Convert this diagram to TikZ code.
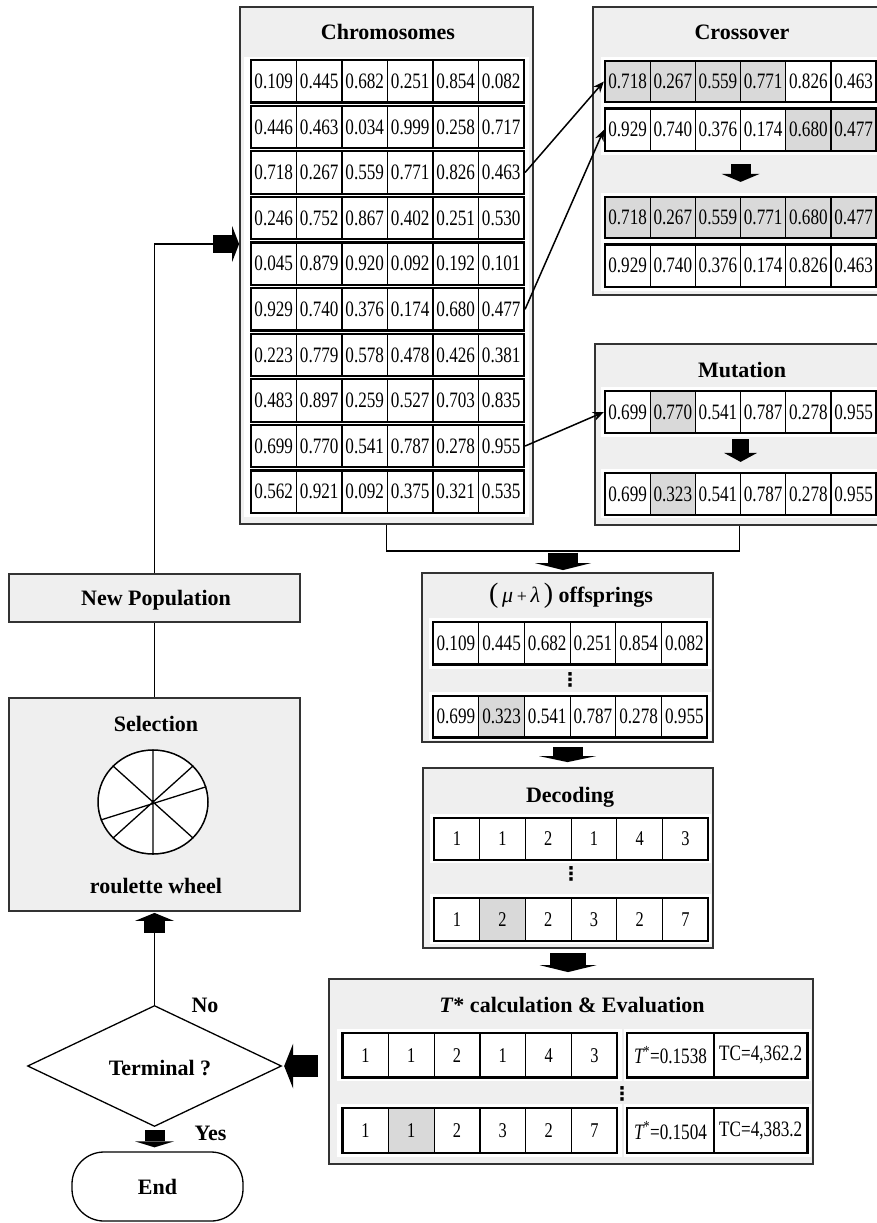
\documentclass[tikz,border=0pt]{standalone}
\usepackage{fontspec}
\setmainfont{Liberation Serif}
\newfontfamily\cellfont[FakeStretch=0.78]{Liberation Serif}
\newfontfamily\dotfont{DejaVu Sans}
\usetikzlibrary{arrows.meta,shapes.geometric,fit,calc}
\definecolor{boxgray}{HTML}{EFEFEF}
\definecolor{cg}{HTML}{D9D9D9}
\definecolor{edge}{HTML}{333333}
\tikzset{
  gbox/.style={draw=edge, fill=boxgray, line width=1.8pt, inner sep=0pt},
  cell/.style={draw=black, line width=1.2pt, inner sep=0pt, font=\cellfont\fontsize{22}{24}\selectfont},
  cellsm/.style={cell, font=\cellfont\fontsize{21}{24}\selectfont},
  rowbox/.style={draw=black, line width=2.2pt, inner sep=0pt},
  ttl/.style={font=\bfseries\fontsize{22}{26}\selectfont, anchor=base, inner sep=0pt},
  conn/.style={draw=black, line width=1.5pt},
  ptr/.style={conn, -{Stealth[length=11pt,width=9pt]}},
  blk/.style n args={3}{draw=black, line width=#1, -{Triangle[width=#2, length=#3, line width=0pt]}},
  dotsn/.style={inner sep=0pt, font=\dotfont\bfseries\fontsize{19}{20}\selectfont}
}
\newcommand{\crow}[7][cell]{%
  \foreach \v/\f [count=\i] in {#7}{%
    \node[#1, fill=\f, minimum width=#5pt, minimum height=#6pt] (#2-\i) at ({#3+(\i-0.5)*#5},{#4+#6/2}) {\v};
  }
  \node[rowbox, fit={(#3,#4) ({#3+6*#5},{#4+#6})}] (#2) {};
}
\newcommand{\whitestrip}[4]{\fill[white] (#1,#2) rectangle (#3,#4);}
\begin{document}
\begin{tikzpicture}[x=1pt,y=-1pt]
\useasboundingbox (0,0) rectangle (877,1223);

% ---------- boxes ----------
\node[gbox, fit={(240,7) (533,524)}] (chrom) {};
\node[gbox, fit={(593,7) (884,295)}] (cross) {};
\node[gbox, fit={(595,344) (884,525)}] (mut) {};
\node[gbox, fit={(422,573) (713,742)}] (offs) {};
\node[gbox, fit={(423,768) (713,948)}] (dec) {};
\node[gbox, fit={(329,979) (813,1164)}] (tst) {};
\node[gbox, fit={(9,574) (300,622)}] (newpop) {};
\node[gbox, fit={(9,698) (300,911)}] (sel) {};

% ---------- white strips ----------
\whitestrip{244}{57}{529}{517}
\whitestrip{601}{57}{880}{155}
\whitestrip{601}{193}{880}{291}
\whitestrip{601}{387}{880}{437}
\whitestrip{601}{469}{880}{518}
\whitestrip{429}{618}{711}{669}
\whitestrip{429}{692}{711}{740}
\whitestrip{430}{814}{711}{863}
\whitestrip{430}{894}{711}{944}
\whitestrip{337}{1029}{622}{1081}
\whitestrip{624}{1029}{811}{1081}
\whitestrip{337}{1104}{622}{1157}
\whitestrip{624}{1104}{811}{1157}

% ---------- titles ----------
\node[ttl] (tchrom) at (388,40) {Chromosomes};
\node[ttl] (tcross) at (742,39.5) {Crossover};
\node[ttl] (tmut) at (742,377) {Mutation};
\node[ttl] (toffs) at (571,602) {{\mdseries\fontsize{28}{28}\selectfont(}\,{\mdseries\itshape μ}\,{\mdseries\fontsize{18}{18}\selectfont +}\,{\mdseries\itshape λ}\,{\mdseries\fontsize{28}{28}\selectfont)}\ offsprings};
\node[ttl] (tdec) at (570,802) {Decoding};
\node[ttl] (ttst) at (572,1012) {\textit{T}* calculation \& Evaluation};
\node[ttl] (tnew) at (156,605) {New Population};
\node[ttl] (tsel) at (156,731) {Selection};
\node[ttl] (trou) at (156,893) {roulette wheel};

% ---------- chromosomes ----------
\crow{ch1}{251}{60}{45.5}{42.5}{0.109/white,0.445/white,0.682/white,0.251/white,0.854/white,0.082/white}
\crow{ch2}{251}{105.6}{45.5}{42.5}{0.446/white,0.463/white,0.034/white,0.999/white,0.258/white,0.717/white}
\crow{ch3}{251}{151.2}{45.5}{42.5}{0.718/white,0.267/white,0.559/white,0.771/white,0.826/white,0.463/white}
\crow{ch4}{251}{196.8}{45.5}{42.5}{0.246/white,0.752/white,0.867/white,0.402/white,0.251/white,0.530/white}
\crow{ch5}{251}{242.4}{45.5}{42.5}{0.045/white,0.879/white,0.920/white,0.092/white,0.192/white,0.101/white}
\crow{ch6}{251}{288}{45.5}{42.5}{0.929/white,0.740/white,0.376/white,0.174/white,0.680/white,0.477/white}
\crow{ch7}{251}{333.6}{45.5}{42.5}{0.223/white,0.779/white,0.578/white,0.478/white,0.426/white,0.381/white}
\crow{ch8}{251}{379.2}{45.5}{42.5}{0.483/white,0.897/white,0.259/white,0.527/white,0.703/white,0.835/white}
\crow{ch9}{251}{424.8}{45.5}{42.5}{0.699/white,0.770/white,0.541/white,0.787/white,0.278/white,0.955/white}
\crow{ch10}{251}{470.4}{45.5}{42.5}{0.562/white,0.921/white,0.092/white,0.375/white,0.321/white,0.535/white}

% ---------- crossover ----------
\crow{co1}{605}{61}{45.2}{41}{0.718/cg,0.267/cg,0.559/cg,0.771/cg,0.826/white,0.463/white}
\crow{co2}{605}{108.5}{45.2}{42.5}{0.929/white,0.740/white,0.376/white,0.174/white,0.680/cg,0.477/cg}
\crow{co3}{605}{197}{45.2}{41}{0.718/cg,0.267/cg,0.559/cg,0.771/cg,0.680/cg,0.477/cg}
\crow{co4}{605}{244.5}{45.2}{42.5}{0.929/white,0.740/white,0.376/white,0.174/white,0.826/white,0.463/white}

% ---------- mutation ----------
\crow{mu1}{605}{391}{45.2}{42}{0.699/white,0.770/cg,0.541/white,0.787/white,0.278/white,0.955/white}
\crow{mu2}{605}{473}{45.2}{42}{0.699/white,0.323/cg,0.541/white,0.787/white,0.278/white,0.955/white}

% ---------- offsprings ----------
\crow{of1}{433}{622}{45.7}{42.5}{0.109/white,0.445/white,0.682/white,0.251/white,0.854/white,0.082/white}
\node[dotsn] (ofd) at (570,680) {⋮};
\crow{of2}{433}{696}{45.7}{41.5}{0.699/white,0.323/cg,0.541/white,0.787/white,0.278/white,0.955/white}

% ---------- decoding ----------
\crow[cellsm]{de1}{434}{818}{45.7}{42}{1/white,1/white,2/white,1/white,4/white,3/white}
\node[dotsn] (ded) at (571,874) {⋮};
\crow[cellsm]{de2}{434}{898}{45.7}{43}{1/white,2/cg,2/white,3/white,2/white,7/white}

% ---------- T* calculation ----------
\crow[cellsm]{tc1}{342.5}{1033}{45.8}{44.5}{1/white,1/white,2/white,1/white,4/white,3/white}
\node[cell, minimum width=87pt, minimum height=44.5pt] (tv1) at (670.5,1055.25) {{\itshape T}\textsuperscript{*}=0.1538};
\node[cell, minimum width=93.5pt, minimum height=44.5pt] (tw1) at (760.75,1055.25) {TC=4,362.2};
\node[rowbox, fit={(627,1033) (807.5,1077.5)}] (tr1) {};
\node[dotsn] (tcd) at (622,1094) {⋮};
\crow[cellsm]{tc2}{342.5}{1108}{45.8}{45}{1/white,1/cg,2/white,3/white,2/white,7/white}
\node[cell, minimum width=87pt, minimum height=45pt] (tv2) at (670.5,1130.5) {{\itshape T}\textsuperscript{*}=0.1504};
\node[cell, minimum width=93.5pt, minimum height=45pt] (tw2) at (760.75,1130.5) {TC=4,383.2};
\node[rowbox, fit={(627,1108) (807.5,1153)}] (tr2) {};

% ---------- selection wheel ----------
\node[ellipse, draw=black, fill=white, line width=1.5pt, minimum width=110pt, minimum height=104pt, inner sep=0pt] (wheel) at (153,802) {};
\draw[line width=1.3pt] (wheel.90) -- (wheel.270) (wheel.138) -- (wheel.318)
  (wheel.42) -- (wheel.222) (wheel.16) -- (wheel.199);

% ---------- decision and end ----------
\node[diamond, draw=black, line width=1.3pt, fill=white, minimum width=254pt, minimum height=121pt, inner sep=0pt] (dia) at (154.5,1066) {};
\node[ttl] (tterm) at (160,1075) {Terminal ?};
\node[draw=black, line width=1.3pt, rounded corners=32pt, minimum width=171pt, minimum height=69pt, inner sep=0pt, font=\bfseries\fontsize{22}{26}\selectfont] (end) at (157.5,1186.5) {End};
\node[ttl] (tno) at (205,1012) {No};
\node[ttl] (tyes) at (210.5,1140) {Yes};

% ---------- connectors ----------
\coordinate (inA) at (213,244);
\draw[conn] (newpop.north) |- (inA);
\draw[blk={18pt}{36pt}{7pt}] (inA) -- (inA -| chrom.west);
\draw[conn] (sel.north) -- (newpop.south);

\draw[ptr] (ch3.east) -- (co1.west);
\draw[ptr] (ch6.east) -- (co2.west);
\draw[ptr] (ch9.east) -- (mu1.west);

\draw[blk={20pt}{38pt}{8pt}, shorten <=12pt, shorten >=14pt] (co2.south) -- (co2.south |- co3.north);
\draw[blk={17pt}{33pt}{9pt}, shorten <=5pt, shorten >=10pt] (mu1.south) -- (mu1.south |- mu2.north);

\coordinate (join) at (563,551);
\draw[conn] (chrom.south) |- (join) -| (mut.south);
\draw[blk={30pt}{56pt}{7pt}, shorten <=1.5pt, shorten >=2pt] (join) -- (join |- offs.north);
\draw[blk={30pt}{57pt}{6pt}, shorten <=4pt, shorten >=5pt] (offs.south) -- (offs.south |- dec.north);
\draw[blk={36pt}{57pt}{7pt}, shorten <=4pt, shorten >=6pt] (dec.south) -- (dec.south |- tst.north);
\draw[blk={22pt}{45pt}{9pt}, shorten <=10pt, shorten >=2pt] (dia.east -| tst.west) -- (dia.east);

\coordinate (upA) at ([yshift=-21pt]sel.south);
\draw[conn] (dia.north) -- (upA);
\draw[blk={21pt}{39pt}{8pt}, shorten >=1pt] (upA) -- (sel.south);
\draw[blk={20pt}{39pt}{6pt}, shorten <=3pt, shorten >=4pt] (dia.south) -- (dia.south |- end.north);
\end{tikzpicture}
\end{document}
